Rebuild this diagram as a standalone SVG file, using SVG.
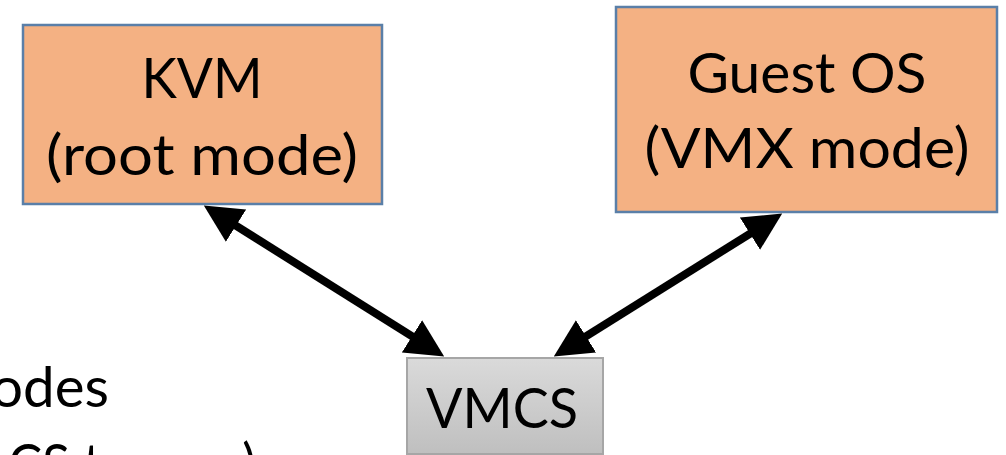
<svg xmlns="http://www.w3.org/2000/svg" width="1006" height="455" viewBox="0 0 1006 455">
<defs>
<style>
.box{fill:#F4B183;stroke:#5A7FA8;stroke-width:2.5}
.vm{fill:url(#g);stroke:#A6A6A6;stroke-width:2}
.t{font-family:"Lato","Open Sans","Liberation Sans",sans-serif;font-size:56px;fill:#000;text-anchor:middle}
.tl{font-family:"Lato","Open Sans","Liberation Sans",sans-serif;font-size:56px;fill:#000}
.c{stroke:#000;stroke-width:8;fill:none;marker-start:url(#ah);marker-end:url(#ah)}
</style>
<linearGradient id="g" x1="0" y1="0" x2="0" y2="1">
<stop offset="0" stop-color="#DADADA"/>
<stop offset="1" stop-color="#BFBFBF"/>
</linearGradient>
<marker id="ah" markerUnits="userSpaceOnUse" markerWidth="38" markerHeight="38" viewBox="0 0 38 38" refX="19" refY="19" orient="auto-start-reverse">
<path d="M0,0 L38,19 L0,38 z" fill="#000"/>
</marker>
</defs>
<g id="kvm">
<rect class="box" x="23" y="25" width="359" height="179"/>
<text class="t" x="202" y="98" textLength="121" lengthAdjust="spacingAndGlyphs">KVM</text>
<text class="t" x="202" y="175" textLength="312" lengthAdjust="spacingAndGlyphs">(root mode)</text>
</g>
<g id="guest">
<rect class="box" x="616" y="7" width="381" height="205"/>
<text class="t" x="807" y="93" textLength="239" lengthAdjust="spacingAndGlyphs">Guest OS</text>
<text class="t" x="807" y="168" textLength="325" lengthAdjust="spacingAndGlyphs">(VMX mode)</text>
</g>
<g id="vmcs">
<rect class="vm" x="407" y="358" width="196" height="96"/>
<text class="t" x="502" y="428" textLength="152" lengthAdjust="spacingAndGlyphs">VMCS</text>
</g>
<g id="side-text">
<text class="tl" x="-9" y="407" textLength="118" lengthAdjust="spacingAndGlyphs">odes</text>
<text class="tl" x="8" y="484" textLength="248" lengthAdjust="spacingAndGlyphs">CS to save)</text>
</g>
<g id="connectors">
<line class="c" x1="219.9" y1="215.6" x2="428.1" y2="346.4"/>
<line class="c" x1="766.1" y1="223.6" x2="569.9" y2="346.4"/>
</g>
</svg>
